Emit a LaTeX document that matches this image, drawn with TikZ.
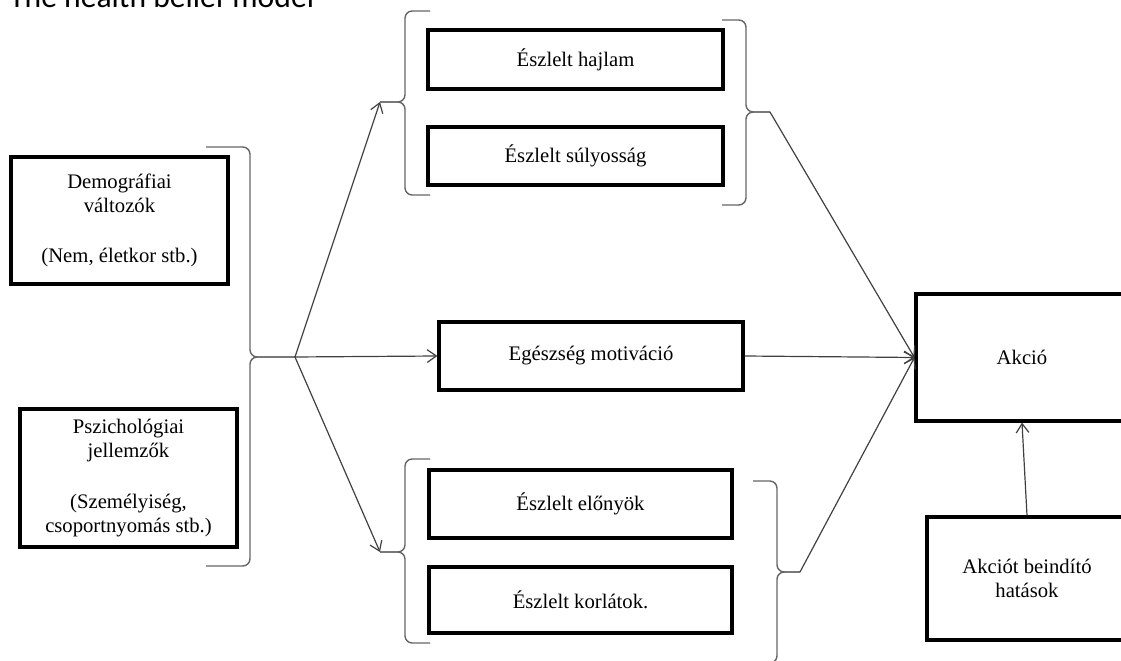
\documentclass[tikz,border=0pt]{standalone}
\usepackage{fontspec}
\setmainfont{Liberation Serif}
\newfontfamily\titlefont{Carlito}
\usetikzlibrary{arrows.meta}

% bracket: arm x, spine x, top y, middle y, bottom y, tip x
\newcommand{\bracketshape}[6]{%
  \draw[bracket] (#1,#3) -- (#2,#3) -- (#2,#4) -- (#6,#4);
  \draw[bracket] (#1,#5) -- (#2,#5) -- (#2,#4) -- (#6,#4);}

\begin{document}
\begin{tikzpicture}
[x=0.025cm,y=-0.025cm,
 >={Straight Barb[length=6.5pt,width=9pt]},
 box/.style={draw=black,line width=2.2pt,align=center,inner sep=0pt,
   font=\fontsize{14.7}{17.1}\selectfont},
 bracket/.style={draw=black!60,line width=1pt,rounded corners=0.18cm},
 link/.style={->,draw=black!75,line width=0.85pt}]

  \useasboundingbox (0,0) rectangle (1121,661);

  \node[anchor=base west,inner sep=0pt,
        font=\titlefont\fontsize{22.5}{27}\selectfont] (title) at (9,8)
        {The health belief model};

  % left column
  \node[box,minimum width=5.425cm,minimum height=3.175cm] (demog) at (119.5,220.5)
        {Demográfiai\\ változók\\[19pt] (Nem, életkor stb.)};
  \node[box,minimum width=5.425cm,minimum height=3.45cm] (pszich) at (128.5,478)
        {Pszichológiai\\ jellemzők\\[19pt] (Személyiség,\\ csoportnyomás stb.)};

  % middle column
  \node[box,minimum width=7.375cm,minimum height=1.475cm] (hajlam) at (575.5,59.5) {Észlelt hajlam};
  \node[box,minimum width=7.375cm,minimum height=1.45cm] (sulyos) at (575.5,156) {Észlelt súlyosság};
  \node[box,minimum width=7.6cm,minimum height=1.7cm] (motiv) at (591,356) {Egészség motiváció};
  \node[box,minimum width=7.575cm,minimum height=1.7cm] (elony) at (580.5,504) {Észlelt előnyök};
  \node[box,minimum width=7.575cm,minimum height=1.65cm] (korlat) at (580.5,600) {Észlelt korlátok.};

  % right column
  \node[box,minimum width=5.3cm,minimum height=3.175cm] (akcio) at (1022,357.5) {Akció};
  \node[box,minimum width=5cm,minimum height=3.075cm] (beindito) at (1027,578.5)
        {Akciót beindító\\ hatások};

  % brackets
  \bracketshape{206}{250}{147}{357}{566}{295}
  \bracketshape{430}{405}{11}{102}{195}{380}
  \bracketshape{722}{746}{20}{112}{205}{770}
  \bracketshape{430}{405}{459}{552}{643}{380}
  \bracketshape{753}{777}{481}{572}{663}{800}

  \coordinate (fan) at (295,357);
  \coordinate (riskin) at (380,102);
  \coordinate (riskout) at (770,112);
  \coordinate (benin) at (380,552);
  \coordinate (benout) at (800,572);

  \draw[link] (fan) -- (riskin);
  \draw[link] (fan) -- (motiv.west);
  \draw[link] (fan) -- (benin);
  \draw[link] (riskout) -- (akcio.west);
  \draw[link] (motiv.east) -- (akcio.west);
  \draw[link] (benout) -- (akcio.west);
  \draw[link] (beindito.north) -- (akcio.south);
\end{tikzpicture}
\end{document}
